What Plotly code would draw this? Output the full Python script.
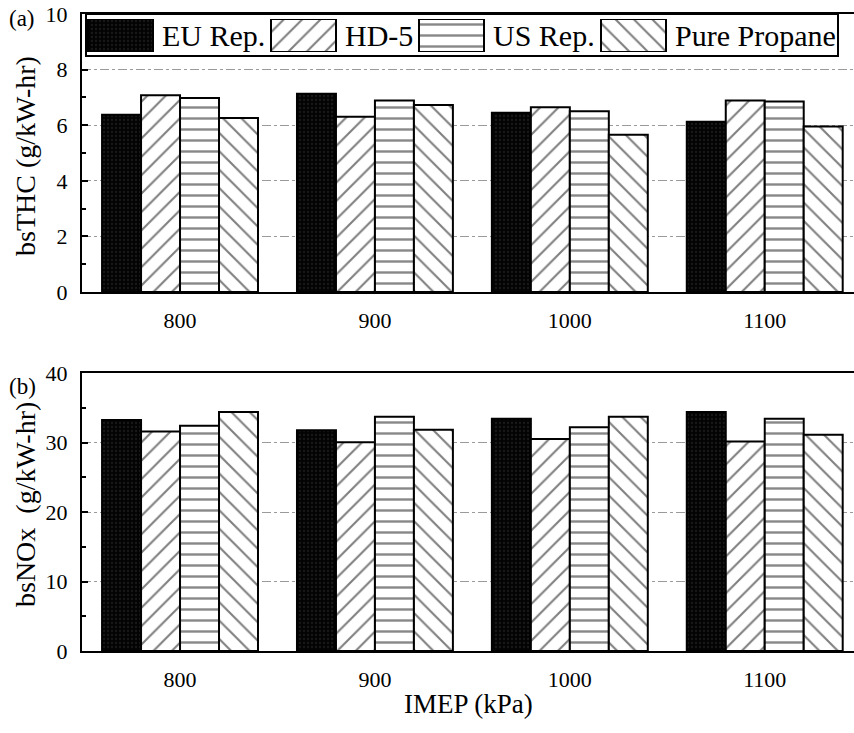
import plotly.graph_objects as go

# IMEP operating points (kPa)
imep = [800, 900, 1000, 1100]

fuels = ["EU Rep.", "HD-5", "US Rep.", "Pure Propane"]

# Brake-specific total hydrocarbons (g/kW-hr)
thc_eu = [6.38, 7.13, 6.45, 6.12]
thc_hd5 = [7.08, 6.30, 6.65, 6.89]
thc_us = [6.98, 6.89, 6.50, 6.85]
thc_propane = [6.26, 6.73, 5.66, 5.95]

# Brake-specific NOx (g/kW-hr)
nox_eu = [33.25, 31.75, 33.4, 34.4]
nox_hd5 = [31.6, 30.05, 30.5, 30.15]
nox_us = [32.4, 33.7, 32.2, 33.4]
nox_propane = [34.4, 31.85, 33.7, 31.1]

thc_ticks = [0, 2, 4, 6, 8, 10]
nox_ticks = [0, 10, 20, 30, 40]

FONT = "Liberation Serif"
W, H = 854, 733
ML, MR, MT, MB = 82, 0, 14, 82
PW, PH = W - ML - MR, H - MT - MB


def px_x(p):
    return (p - ML) / PW


def px_y(p):
    return (H - MB - p) / PH


patterns = {
    "EU Rep.": dict(shape=".", bgcolor="#030303", fgcolor="#2e2e2e", size=4, solidity=0.25),
    "HD-5": dict(shape="/", bgcolor="white", fgcolor="black", size=13, solidity=0.16),
    "US Rep.": dict(shape="-", bgcolor="white", fgcolor="#111111", size=11, solidity=0.22),
    "Pure Propane": dict(shape="\\", bgcolor="white", fgcolor="black", size=13, solidity=0.16),
}

fig = go.Figure()

panels = [
    ("x", "y", [thc_eu, thc_hd5, thc_us, thc_propane]),
    ("x2", "y2", [nox_eu, nox_hd5, nox_us, nox_propane]),
]
for xa, ya, series in panels:
    for name, vals in zip(fuels, series):
        fig.add_trace(go.Bar(
            x=imep, y=vals, name=name, xaxis=xa, yaxis=ya,
            marker=dict(color="white", pattern=patterns[name],
                        line=dict(color="black", width=2)),
            showlegend=False, hoverinfo="x+y+name",
        ))

# Legend swatches drawn on their own hidden axes (pixel-unit range)
swatch_left = [88, 271, 419, 601]
swatch_w = 65
for name, left in zip(fuels, swatch_left):
    fig.add_trace(go.Bar(
        x=[left + swatch_w / 2], y=[1], base=[0], width=[swatch_w],
        xaxis="x3", yaxis="y3", showlegend=False, hoverinfo="skip",
        marker=dict(color="white", pattern=patterns[name],
                    line=dict(color="black", width=2)),
    ))
    fig.add_annotation(x=left + swatch_w + 7, y=0.5, xref="x3", yref="y3",
                       text=name, showarrow=False, xanchor="left", yanchor="middle",
                       font=dict(family=FONT, size=30, color="black"))

fig.add_shape(type="rect", xref="paper", yref="paper",
              x0=px_x(86), x1=px_x(838), y0=px_y(56), y1=px_y(14),
              line=dict(color="black", width=2), fillcolor="rgba(0,0,0,0)",
              layer="above")

xrange = [749.7, 1145.8]
common_x = dict(range=xrange, tickvals=imep, ticktext=[str(v) for v in imep],
                showline=True, linecolor="black", linewidth=2, mirror=True,
                ticks="", showgrid=False, zeroline=False,
                tickfont=dict(family=FONT, size=22, color="black"),
                ticklabelstandoff=8)
common_y = dict(showline=True, linecolor="black", linewidth=2, mirror=False,
                ticks="inside", ticklen=6, tickwidth=1.5, tickcolor="black",
                showgrid=True, gridcolor="#9a9a9a", gridwidth=1, griddash="dashdot",
                zeroline=False,
                tickfont=dict(family=FONT, size=22, color="black"),
                ticklabelstandoff=8)

top_dom = [px_y(292), 1.0]
bot_dom = [0.0, px_y(373)]

fig.update_layout(
    width=W, height=H,
    margin=dict(l=ML, r=MR, t=MT, b=MB),
    paper_bgcolor="white", plot_bgcolor="white",
    barmode="group", bargap=0.2, bargroupgap=0,
    showlegend=False,
    font=dict(family=FONT, color="black"),
    xaxis=dict(domain=[0, 1], anchor="y", **common_x),
    yaxis=dict(domain=top_dom, anchor="x", range=[0, 10], tickvals=thc_ticks,
               minor=dict(dtick=1, ticks="inside", ticklen=4, tickcolor="black",
                          showgrid=False),
               **common_y),
    xaxis2=dict(domain=[0, 1], anchor="y2", **common_x),
    yaxis2=dict(domain=bot_dom, anchor="x2", range=[0, 40], tickvals=nox_ticks,
                minor=dict(dtick=5, ticks="inside", ticklen=4, tickcolor="black",
                           showgrid=False),
                **common_y),
    xaxis3=dict(domain=[0, 1], anchor="y3", range=[ML, W], visible=False,
                fixedrange=True),
    yaxis3=dict(domain=[px_y(52), px_y(19)], anchor="x3", range=[0, 1],
                visible=False, fixedrange=True),
)

# Axis titles and panel labels
label_font = dict(family=FONT, color="black")
fig.add_annotation(x=px_x(25), y=px_y(156), xref="paper", yref="paper",
                   text="bsTHC (g/kW-hr)", textangle=-90, showarrow=False,
                   xanchor="center", yanchor="middle",
                   font=dict(size=28, **label_font))
fig.add_annotation(x=px_x(25), y=px_y(505), xref="paper", yref="paper",
                   text="bsNOx  (g/kW-hr)", textangle=-90, showarrow=False,
                   xanchor="center", yanchor="middle",
                   font=dict(size=28, **label_font))
fig.add_annotation(x=px_x(468), y=px_y(704), xref="paper", yref="paper",
                   text="IMEP (kPa)", showarrow=False,
                   xanchor="center", yanchor="middle",
                   font=dict(size=27, **label_font))
fig.add_annotation(x=px_x(22), y=px_y(18), xref="paper", yref="paper",
                   text="(a)", showarrow=False, xanchor="center", yanchor="middle",
                   font=dict(size=23, **label_font))
fig.add_annotation(x=px_x(22), y=px_y(386), xref="paper", yref="paper",
                   text="(b)", showarrow=False, xanchor="center", yanchor="middle",
                   font=dict(size=23, **label_font))

fig.write_html("out.html")
